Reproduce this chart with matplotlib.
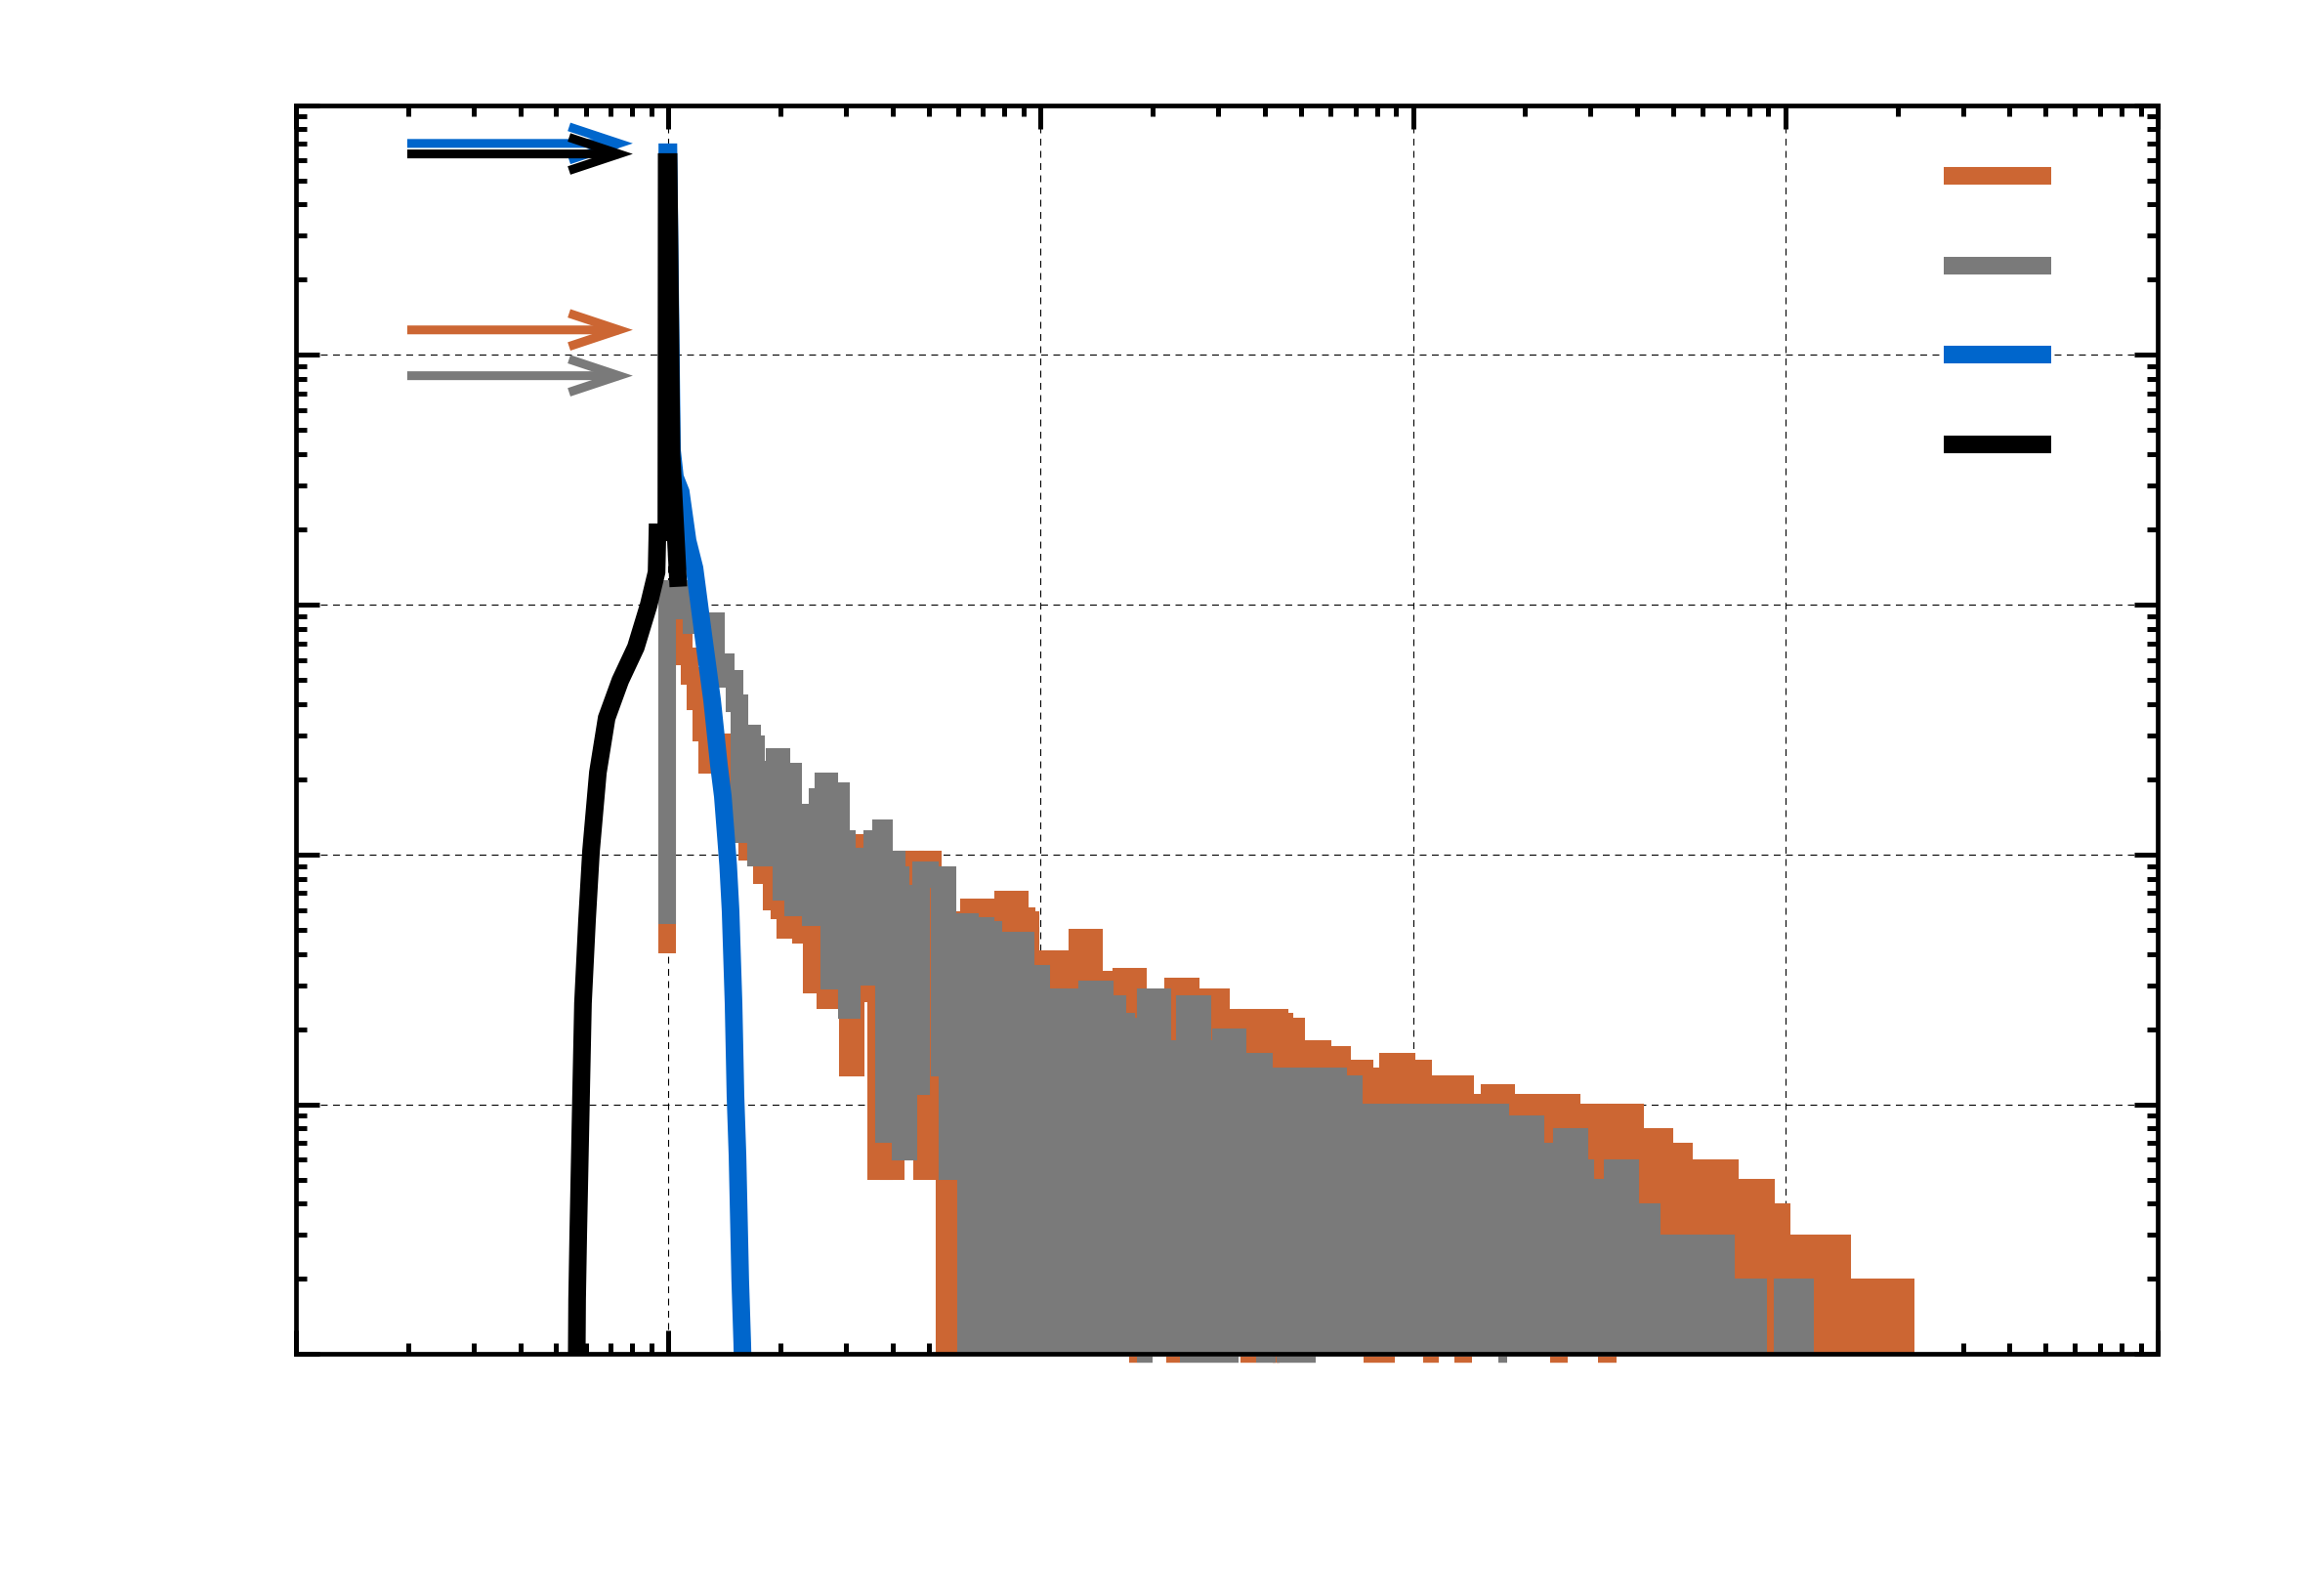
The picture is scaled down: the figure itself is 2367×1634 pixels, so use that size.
import numpy as np
import matplotlib
matplotlib.use("Agg")
import matplotlib.pyplot as plt

plt.rcParams['lines.scale_dashes'] = False

# ---------------- data ----------------
ORANGE = '#cc6633'
GRAY = '#7a7a7a'
BLUE = '#0066cc'
BLACK = '#000000'

x_limits = (0.1, 1e4)
y_limits = (1e-5, 1.0)

# orange histogram: bin edges and bin values
orange_edges = [0.993, 1.048, 1.100, 1.141, 1.183, 1.226, 1.272, 1.319, 1.367, 1.418,
                1.488, 1.580, 1.629, 1.784, 1.895, 1.989, 2.062, 2.164, 2.271, 2.427,
                2.532, 2.641, 2.806, 2.927, 3.035, 3.185, 3.322, 3.466, 3.616, 3.795,
                3.911, 4.081, 4.283, 4.605, 4.804, 4.981, 5.134, 5.519, 5.970, 6.419,
                7.114, 7.244, 7.742, 7.931, 8.788, 9.167, 9.391, 10.34, 10.79, 11.96,
                12.55, 13.91, 14.86, 16.47, 18.25, 19.04, 21.23, 22.69, 25.29, 30.50,
                32.61, 35.69, 43.83, 45.17, 48.57, 50.67, 57.16, 64.51, 66.07, 74.11,
                85.69, 96.08, 106.5, 118.7, 124.6, 138.1, 160.6, 177.9, 193.6, 266.7,
                315.9, 321.6, 350.0, 394.9, 473.4, 534.2, 709.6, 887.5, 977.3, 1421, 2222]
orange_values = [8.30e-3, 7.24e-3, 6.23e-3, 5.19e-3, 4.11e-3, 3.08e-3, 2.29e-3, 2.57e-3, 2.77e-3, 2.81e-3,
                 1.26e-3, 2.35e-3, 1.03e-3, 8.26e-4, 6.49e-4, 5.98e-4, 4.99e-4, 1.33e-3, 4.78e-4, 3.01e-4,
                 7.98e-4, 2.61e-4, 1.13e-3, 1.05e-3, 1.40e-4, 1.11e-3, 2.78e-4, 1.11e-3, 5.40e-5, 7.98e-4,
                 5.40e-5, 8.39e-5, 9.55e-4, 1.00e-4, 5.40e-5, 9.55e-4, 1.29e-4, 9.25e-6, 5.47e-4, 6.14e-4,
                 5.93e-4, 4.82e-4, 4.44e-4, 6.60e-4, 5.66e-4, 5.47e-4, 3.81e-4, 3.61e-4, 3.81e-4, 3.71e-4,
                 4.65e-4, 3.16e-4, 3.07e-4, 3.24e-4, 2.32e-4, 1.96e-4, 2.59e-4, 2.96e-4, 2.68e-4, 2.22e-4,
                 2.14e-4, 2.22e-4, 2.14e-4, 2.05e-4, 1.48e-4, 1.66e-4, 1.58e-4, 1.29e-4, 1.39e-4, 1.29e-4,
                 1.48e-4, 1.39e-4, 1.20e-4, 1.01e-4, 1.20e-4, 1.01e-4, 1.11e-4, 9.27e-5, 1.01e-4, 9.27e-5,
                 8.32e-5, 7.40e-5, 9.27e-5, 7.40e-5, 6.47e-5, 5.55e-5, 4.63e-5, 3.70e-5, 2.77e-5, 1.85e-5]
orange_start = 4.02e-4
orange_fill_from = 5.519
# single-count bins that sit just under the lower axis limit
orange_low_bins = [(17.33, 18.13), (21.76, 23.62), (34.34, 37.96), (41.97, 43.91),
                   (73.86, 89.43), (106.4, 117.6), (128.8, 143.7), (232.9, 259.8), (314.8, 351.2)]

# gray histogram
gray_edges = [0.993, 1.087, 1.155, 1.264, 1.343, 1.427, 1.506, 1.552, 1.610, 1.680,
              1.721, 1.762, 1.849, 1.930, 2.013, 2.087, 2.164, 2.217, 2.341, 2.413,
              2.517, 2.609, 2.705, 2.806, 2.910, 3.017, 3.109, 3.322, 3.424, 3.530,
              3.727, 3.795, 3.959, 4.106, 4.206, 4.414, 4.633, 4.775, 5.042, 5.228,
              5.355, 5.486, 5.620, 5.970, 6.458, 7.114, 7.467, 7.931, 8.174, 9.112,
              10.04, 11.19, 11.60, 12.86, 13.33, 14.86, 16.08, 16.97, 19.16, 21.23,
              23.25, 24.39, 27.19, 29.59, 30.50, 33.81, 39.78, 51.60, 53.18, 56.48,
              62.97, 69.35, 73.67, 81.16, 91.54, 94.92, 118.7, 130.8, 145.8, 153.9,
              171.6, 181.2, 191.3, 213.3, 242.2, 251.1, 279.9, 290.2, 331.5, 343.7,
              383.2, 392.6, 437.7, 588.4, 621.3, 692.7, 845.6, 983.2, 1193]
gray_values = [1.16e-2, 9.49e-3, 8.29e-3, 8.60e-3, 5.89e-3, 5.05e-3, 4.04e-3, 1.21e-3, 3.05e-3, 2.76e-3,
               9.73e-4, 2.19e-3, 9.73e-4, 2.46e-3, 7.10e-4, 2.15e-3, 6.14e-4, 1.47e-3, 1.39e-3, 5.62e-4,
               1.70e-3, 1.96e-3, 3.13e-4, 1.79e-3, 1.15e-3, 2.39e-4, 9.81e-4, 3.24e-4, 9.81e-4, 1.15e-3,
               1.27e-3, 7.60e-5, 9.55e-4, 8.27e-4, 6.47e-5, 6.97e-4, 1.18e-4, 8.65e-4, 7.98e-4, 8.27e-4,
               1.40e-4, 8.27e-4, 5.40e-5, 5.37e-4, 5.18e-4, 4.99e-4, 3.61e-4, 3.52e-4, 4.52e-4, 3.33e-4,
               2.68e-4, 2.52e-4, 2.68e-4, 2.52e-4, 2.88e-4, 2.52e-4, 2.14e-4, 2.05e-4, 2.68e-4, 1.66e-4,
               1.48e-4, 2.52e-4, 1.48e-4, 1.66e-4, 1.85e-4, 1.48e-4, 1.29e-4, 9.27e-5, 1.11e-4, 1.29e-4,
               1.20e-4, 9.27e-5, 8.32e-5, 9.27e-5, 6.47e-5, 9.27e-5, 8.32e-5, 9.27e-5, 6.47e-5, 9.27e-5,
               8.32e-5, 6.47e-5, 8.32e-5, 6.47e-5, 5.55e-5, 7.40e-5, 5.55e-5, 4.63e-5, 2.77e-5, 5.55e-5,
               2.77e-5, 3.70e-5, 2.77e-5, 1.85e-5, 2.77e-5, 1.85e-5, 9.25e-6, 1.85e-5]
gray_start = 5.27e-4
gray_fill_from = 5.970
gray_low_bins = [(18.13, 20.04), (23.62, 34.03), (37.96, 42.74), (43.12, 54.67), (169.3, 178.8)]
low_bin_level = 9.5e-6

# blue curve
blue_x = [0.994, 0.994, 1.001, 1.023, 1.042, 1.080, 1.127, 1.176, 1.241, 1.311,
          1.367, 1.401, 1.448, 1.470, 1.497, 1.515, 1.534, 1.560, 1.580, 1.600]
blue_y = [0.02, 0.648, 0.648, 0.0416, 0.0324, 0.0283, 0.0180, 0.0140, 7.59e-3, 4.15e-3,
          2.29e-3, 1.71e-3, 9.05e-4, 5.93e-4, 2.54e-4, 1.08e-4, 6.24e-5, 1.99e-5, 1.10e-5, 5e-6]

# black curve
black_x = [0.566, 0.569, 0.573, 0.583, 0.590, 0.605, 0.620, 0.647, 0.683, 0.743,
           0.818, 0.885, 0.930, 0.935, 0.988, 0.990, 1.002, 1.020, 1.061]
black_y = [5e-6, 1.66e-5, 3.03e-5, 1.08e-4, 2.54e-4, 5.47e-4, 1.03e-3, 2.13e-3, 3.52e-3, 4.97e-3,
           6.75e-3, 9.93e-3, 1.35e-2, 1.95e-2, 1.95e-2, 0.592, 0.592, 0.040, 0.0128]

# arrows on the left (start x, tip x, and the level of each)
arrow_x_from = 0.199
arrow_x_to = 0.803
arrow_levels = [0.703, 0.638, 0.126, 0.0826]
arrow_colors = [BLUE, BLACK, ORANGE, GRAY]

# legend samples (no label text in the reference)
legend_colors = [ORANGE, GRAY, BLUE, BLACK]

assert len(orange_values) == len(orange_edges) - 1
assert len(gray_values) == len(gray_edges) - 1

# ---------------- figure ----------------
fig = plt.figure(figsize=(23.67, 16.34), dpi=100)
ax = fig.add_axes([0.12801, 0.15159, 0.80524, 0.78250])
ax.set_xscale('log')
ax.set_yscale('log')
ax.set_xlim(*x_limits)
ax.set_ylim(*y_limits)

LW = 13
BOTTOM = 1e-8


def draw_hist(edges, values, start, fill_from, color, z):
    e = np.asarray(edges, dtype=float)
    v = np.asarray(values, dtype=float)
    i0 = int(np.searchsorted(e, fill_from))
    fx = e[i0:]
    fy = np.append(v[i0:], v[-1])
    ax.fill_between(fx, fy, BOTTOM, step='post', color=color, lw=0, zorder=z)
    xs = [e[0]]
    ys = [start]
    for i, val in enumerate(v):
        xs += [e[i], e[i + 1]]
        ys += [val, val]
    ax.plot(xs, ys, color=color, lw=LW, solid_joinstyle='miter',
            solid_capstyle='butt', zorder=z)


def draw_low_bins(bins, color, z):
    for a, b in bins:
        ax.plot([a, b], [low_bin_level, low_bin_level], color=color, lw=4.6,
                solid_capstyle='butt', clip_on=False, zorder=z)


draw_low_bins(orange_low_bins, ORANGE, 1.6)
draw_low_bins(gray_low_bins, GRAY, 1.7)
draw_hist(orange_edges, orange_values, orange_start, orange_fill_from, ORANGE, 2)
draw_hist(gray_edges, gray_values, gray_start, gray_fill_from, GRAY, 3)
ax.plot(blue_x, blue_y, color=BLUE, lw=LW, solid_joinstyle='miter',
        solid_capstyle='butt', zorder=4)
ax.plot(black_x, black_y, color=BLACK, lw=LW, solid_joinstyle='miter',
        solid_capstyle='projecting', zorder=5)

for yv, c in zip(arrow_levels, arrow_colors):
    ax.annotate('', xy=(arrow_x_to, yv), xytext=(arrow_x_from, yv),
                arrowprops=dict(arrowstyle='->,head_length=36.7,head_width=12.2',
                                color=c, lw=6.5, shrinkA=0, shrinkB=0,
                                mutation_scale=1, joinstyle='miter', capstyle='butt'),
                zorder=6)

legend_y = [0.9436, 0.8716, 0.8003, 0.7283]
for yy, c in zip(legend_y, legend_colors):
    ax.plot([0.885, 0.943], [yy, yy], transform=ax.transAxes, color=c, lw=LW,
            solid_capstyle='butt', zorder=7, clip_on=False)

# grid, ticks, frame
ax.set_axisbelow(True)
ax.grid(True, which='major', color='black', lw=0.8, linestyle=(0, (5, 4)))
ax.grid(False, which='minor')
ax.tick_params(which='both', direction='in', top=True, right=True,
               labelbottom=False, labelleft=False, labeltop=False, labelright=False,
               width=3.6, color='black')
ax.tick_params(which='major', length=17.3)
ax.tick_params(which='minor', length=7.9)
for s in ax.spines.values():
    s.set_linewidth(3.4)
    s.set_zorder(10)

fig.savefig('out.png', dpi=100)
